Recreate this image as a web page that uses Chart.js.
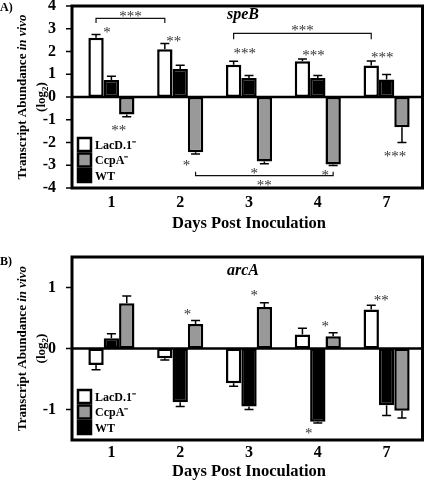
<!DOCTYPE html>
<html>
<head>
<meta charset="utf-8">
<script src="https://cdn.jsdelivr.net/npm/chart.js@4.4.1/dist/chart.umd.min.js"></script>
<style>
  body { margin: 0; background: #fff; }
  canvas { display: block; }
</style>
</head>
<body>
<canvas id="chartA" width="425" height="240"></canvas>
<canvas id="chartB" width="425" height="241"></canvas>
<script>
// categories and series (bar order: LacD.1-, WT, CcpA-)
var days = ['1', '2', '3', '4', '7'];
var seriesLabels = ['LacD.1⁻', 'WT', 'CcpA⁻'];
var legendOrder = [0, 2, 1];

// panel A: speB
var speBLacD = [2.6, 2.1, 1.42, 1.57, 1.38];
var speBLacDErr = [0.15, 0.25, 0.15, 0.1, 0.2];
var speBWT = [0.75, 1.23, 0.84, 0.83, 0.77];
var speBWTErr = [0.16, 0.17, 0.1, 0.11, 0.22];
var speBCcpA = [-0.77, -2.43, -2.83, -2.97, -1.33];
var speBCcpAErr = [0.1, 0.08, 0.1, 0.04, 0.67];
var speBTicks = [-4, -3, -2, -1, 0, 1, 2, 3, 4];

// panel B: arcA
var arcALacD = [-0.27, -0.16, -0.57, 0.23, 0.64];
var arcALacDErr = [0.08, 0.03, 0.05, 0.1, 0.07];
var arcAWT = [0.17, -0.88, -0.95, -1.2, -0.93];
var arcAWTErr = [0.07, 0.07, 0.05, 0.02, 0.17];
var arcACcpA = [0.74, 0.4, 0.68, 0.2, -1.02];
var arcACcpAErr = [0.12, 0.06, 0.07, 0.06, 0.12];
var arcATicks = [-1, 0, 1];

// significance marks: day index, series index, text, value, x shift
var speBStars = [
  [0, 0, '*', 3.0, 11], [0, 2, '**', -1.3, -8],
  [1, 0, '**', 2.6, 9], [1, 2, '*', -2.85, -9],
  [2, 0, '***', 2.06, 11], [2, 2, '*', -3.2, -10],
  [3, 0, '***', 2.0, 11], [3, 2, '*', -3.3, -8],
  [4, 0, '***', 1.9, 11], [4, 2, '***', -2.45, -7]
];
// brackets: from [day, series], to [day, series], line value, end value, text, text value
var speBBrackets = [
  [[0, 0], [1, 0], 3.46, 3.25, '***', 3.68],
  [[2, 0], [4, 0], 2.8, 2.54, '***', 3.07],
  [[1, 2], [3, 2], -3.46, -3.29, '**', -3.73]
];
var arcAStars = [
  [1, 2, '*', 0.62, -8], [2, 2, '*', 0.93, -10],
  [3, 2, '*', 0.41, -8], [3, 1, '*', -1.33, -9],
  [4, 0, '**', 0.85, 10]
];

var serif = "'Liberation Serif', 'Times New Roman', serif";
Chart.defaults.font.family = serif;
Chart.defaults.color = '#000';

var decor = {
  id: 'decor',
  afterDatasetsDraw: function(chart, args, o) {
    var ctx = chart.ctx, a = chart.chartArea, ys = chart.scales.y;
    var fl = a.left - 5, fr = a.right + 1.5;
    function barAt(d, s) { return chart.getDatasetMeta(s).data[d]; }
    function stars(t, px, val) {
      ctx.font = '15px ' + serif;
      ctx.fillStyle = '#333';
      ctx.textAlign = 'center';
      ctx.textBaseline = 'alphabetic';
      ctx.fillText(t, px, ys.getPixelForValue(val) + 8);
    }
    ctx.save();

    // error bars
    ctx.strokeStyle = '#000';
    ctx.lineWidth = 1.5;
    chart.data.datasets.forEach(function(ds, di) {
      chart.getDatasetMeta(di).data.forEach(function(bar, i) {
        var v = ds.data[i], e = ds.errors[i];
        var tip = ys.getPixelForValue(v >= 0 ? v + e : v - e);
        ctx.beginPath();
        ctx.moveTo(bar.x, bar.y);
        ctx.lineTo(bar.x, tip);
        ctx.moveTo(bar.x - 4.5, tip);
        ctx.lineTo(bar.x + 4.5, tip);
        ctx.stroke();
      });
    });

    // zero line
    var y0 = ys.getPixelForValue(0);
    ctx.lineWidth = 2.5;
    ctx.beginPath();
    ctx.moveTo(fl, y0);
    ctx.lineTo(fr, y0);
    ctx.stroke();

    // frame
    ctx.lineWidth = 3;
    ctx.strokeRect(fl, a.top, fr - fl, a.bottom - a.top);

    // y tick marks
    ctx.lineWidth = 1.5;
    ys.ticks.forEach(function(t) {
      var py = ys.getPixelForValue(t.value);
      ctx.beginPath();
      ctx.moveTo(fl - 6, py);
      ctx.lineTo(fl, py);
      ctx.stroke();
    });

    // legend
    var bs = 13, pitch = 15.5;
    legendOrder.forEach(function(di, k) {
      var ds = chart.data.datasets[di];
      var top = a.bottom - 6 - bs - (2 - k) * pitch;
      ctx.fillStyle = ds.backgroundColor;
      ctx.fillRect(fl + 6, top, bs, bs);
      ctx.lineWidth = 2.5;
      ctx.strokeStyle = '#000';
      ctx.strokeRect(fl + 6, top, bs, bs);
      ctx.fillStyle = '#000';
      ctx.font = 'bold 12px ' + serif;
      ctx.textAlign = 'left';
      ctx.textBaseline = 'middle';
      ctx.fillText(ds.label, fl + 6 + bs + 4, top + bs / 2 + 1);
    });

    // significance
    o.stars.forEach(function(s) {
      stars(s[2], barAt(s[0], s[1]).x + s[4], s[3]);
    });
    ctx.lineWidth = 1.2;
    ctx.strokeStyle = '#111';
    o.brackets.forEach(function(b) {
      var x1 = barAt(b[0][0], b[0][1]).x, x2 = barAt(b[1][0], b[1][1]).x;
      var ly = ys.getPixelForValue(b[2]), ey = ys.getPixelForValue(b[3]);
      ctx.beginPath();
      ctx.moveTo(x1, ey);
      ctx.lineTo(x1, ly);
      ctx.lineTo(x2, ly);
      ctx.lineTo(x2, ey);
      ctx.stroke();
      stars(b[4], (x1 + x2) / 2, b[5]);
    });

    // gene name and panel letter
    ctx.fillStyle = '#000';
    ctx.textAlign = 'left';
    ctx.textBaseline = 'alphabetic';
    ctx.font = 'italic bold 16px ' + serif;
    ctx.fillText(o.gene, a.left + 150, o.geneY);
    ctx.font = 'bold 12px ' + serif;
    ctx.fillText(o.panel, 0, o.panelY);

    // y axis title
    var cy = (a.top + a.bottom) / 2;
    var f1 = 'bold 13px ' + serif, f2 = 'italic bold 13px ' + serif;
    ctx.save();
    ctx.translate(23, cy);
    ctx.rotate(-Math.PI / 2);
    ctx.textBaseline = 'middle';
    ctx.font = f1;
    var w1 = ctx.measureText('Transcript Abundance ').width;
    ctx.font = f2;
    var w2 = ctx.measureText('in vivo').width;
    var sx = -(w1 + w2) / 2;
    ctx.font = f1;
    ctx.fillText('Transcript Abundance ', sx, 0);
    ctx.font = f2;
    ctx.fillText('in vivo', sx + w1, 0);
    ctx.restore();

    ctx.save();
    ctx.translate(42, cy);
    ctx.rotate(-Math.PI / 2);
    ctx.textBaseline = 'middle';
    ctx.font = f1;
    var wa = ctx.measureText('(log').width, wc = ctx.measureText(')').width;
    ctx.font = 'bold 9px ' + serif;
    var wb = ctx.measureText('2').width;
    var lx = -(wa + wb + wc) / 2;
    ctx.font = f1;
    ctx.fillText('(log', lx, 0);
    ctx.fillText(')', lx + wa + wb, 0);
    ctx.font = 'bold 9px ' + serif;
    ctx.fillText('2', lx + wa, 4);
    ctx.restore();

    ctx.restore();
  }
};

function makeChart(id, p) {
  return new Chart(document.getElementById(id), {
    type: 'bar',
    data: {
      labels: days,
      datasets: [
        { label: seriesLabels[0], data: p.lacD, errors: p.lacDErr, backgroundColor: '#ffffff' },
        { label: seriesLabels[1], data: p.wt, errors: p.wtErr, backgroundColor: '#000000' },
        { label: seriesLabels[2], data: p.ccpA, errors: p.ccpAErr, backgroundColor: '#999999' }
      ]
    },
    options: {
      responsive: false,
      animation: false,
      layout: { padding: { top: p.top, right: 4, left: 0, bottom: 0 } },
      datasets: {
        bar: {
          borderColor: '#000',
          borderWidth: 2.5,
          borderSkipped: false,
          categoryPercentage: 0.67,
          barPercentage: 1
        }
      },
      plugins: {
        legend: { display: false },
        tooltip: { enabled: false },
        decor: {
          stars: p.stars, brackets: p.brackets,
          gene: p.gene, geneY: p.geneY, panel: p.panel, panelY: p.panelY
        }
      },
      scales: {
        x: {
          grid: { display: false },
          border: { display: false },
          ticks: { padding: p.tickPad, font: { size: 16, weight: 'bold' }, color: '#000' },
          title: {
            display: true, text: 'Days Post Inoculation', color: '#000',
            font: { size: 16.5, weight: 'bold' },
            padding: { top: 0, bottom: p.titlePad }
          },
          afterFit: function(s) { s.height = p.xHeight; }
        },
        y: {
          min: p.min, max: p.max,
          grid: { display: false },
          border: { display: false },
          afterBuildTicks: function(s) { s.ticks = p.ticks.map(function(v) { return { value: v }; }); },
          ticks: { padding: 13, autoSkip: false, font: { size: 16, weight: 'bold' }, color: '#000',
                   callback: function(v) { return String(v); } },
          afterFit: function(s) { s.width = 77; s.paddingTop = 0; s.paddingBottom = 0; }
        }
      }
    },
    plugins: [decor]
  });
}

makeChart('chartA', {
  lacD: speBLacD, lacDErr: speBLacDErr, wt: speBWT, wtErr: speBWTErr,
  ccpA: speBCcpA, ccpAErr: speBCcpAErr, ticks: speBTicks, min: -4, max: 4,
  stars: speBStars, brackets: speBBrackets, gene: 'speB', geneY: 19,
  panel: 'A)', panelY: 11, top: 6, xHeight: 52, tickPad: -3, titlePad: 6
});

makeChart('chartB', {
  lacD: arcALacD, lacDErr: arcALacDErr, wt: arcAWT, wtErr: arcAWTErr,
  ccpA: arcACcpA, ccpAErr: arcACcpAErr, ticks: arcATicks, min: -1.5, max: 1.5,
  stars: arcAStars, brackets: [], gene: 'arcA', geneY: 35,
  panel: 'B)', panelY: 25, top: 17, xHeight: 41, tickPad: -5, titlePad: -1
});
</script>
</body>
</html>
